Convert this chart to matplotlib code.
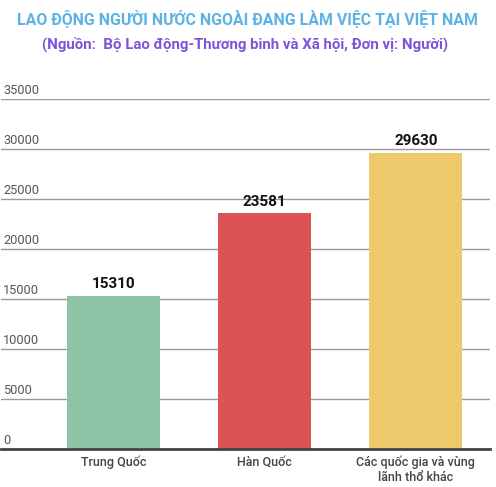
import matplotlib
matplotlib.use("Agg")
import matplotlib.pyplot as plt

categories = ["Trung Quốc", "Hàn Quốc", "Các quốc gia và vùng\nlãnh thổ khác"]
values = [15310, 23581, 29630]
colors = ["#8FC3A8", "#DC5356", "#EEC96B"]
yticks = [0, 5000, 10000, 15000, 20000, 25000, 30000, 35000]

plt.rcParams['font.family'] = ['Roboto', 'DejaVu Sans']

W, H = 496, 487
fig = plt.figure(figsize=(W / 100, H / 100), dpi=100)
ax = fig.add_axes([1 / W, (H - 449) / H, (490 - 1) / W, (449 - 99) / H])

x = list(range(len(categories)))
bars = ax.bar(x, values, width=0.616, color=colors, zorder=2)
ax.set_xlim(-0.745, 2.49)
ax.set_ylim(0, 35000)

for xi, v in zip(x, values):
    ax.text(xi, v + 450, f"{v}", ha="center", va="bottom", fontsize=11,
            fontweight="semibold", color="#111111")

ax.set_yticks(yticks)
ax.set_yticklabels([])
ax.tick_params(axis="y", length=0)
ax.grid(axis="y", color="#9a9a9a", linewidth=1, zorder=0)
for t in yticks:
    ax.text(0.004, t + 250, str(t), transform=ax.get_yaxis_transform(),
            ha="left", va="bottom", fontsize=9.2, color="#555555")

ax.set_xticks(x)
ax.set_xticklabels(categories, fontsize=9, color="#444444", linespacing=1.2,
                   fontweight="medium")
ax.tick_params(axis="x", length=0, pad=5)

for s in ["top", "right", "left"]:
    ax.spines[s].set_visible(False)
ax.spines["bottom"].set_color("#444444")
ax.spines["bottom"].set_linewidth(2)
ax.spines["bottom"].set_zorder(3)

fig.text(247 / W, 1 - 19 / H, "LAO ĐỘNG NGƯỜI NƯỚC NGOÀI ĐANG LÀM VIỆC TẠI VIỆT NAM",
         ha="center", va="center", fontsize=11.4, fontweight="bold", color="#5DB3E4")
fig.text(245 / W, 1 - 44 / H, "(Nguồn:  Bộ Lao động-Thương binh và Xã hội, Đơn vị: Người)",
         ha="center", va="center", fontsize=10.8, fontweight="bold", color="#7B55D8")

fig.savefig("out.png", dpi=100)
